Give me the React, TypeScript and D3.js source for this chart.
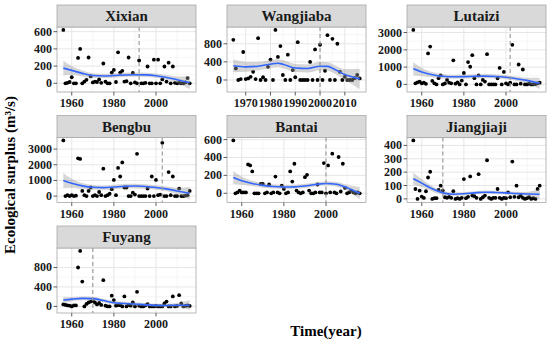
import React from 'react';
import * as d3 from 'd3';

// stations in facet order
const stationNames = ['Xixian', 'Wangjiaba', 'Lutaizi', 'Bengbu', 'Bantai', 'Jiangjiaji', 'Fuyang'];
const firstYears = [1956, 1965, 1956, 1956, 1956, 1956, 1956];
const changeYears = [1992, 2000, 2002, 2003, 2000, 1970, 1970];

// ecological surplus, one value per year from firstYear on
const xixian = [
  620, 0, 5, 15, 70, 0, 0, 295, 400, 0,
  20, 40, 300, 80, 10, 20, 15, 45, 5, 230,
  20, 0, 0, 125, 155, 15, 360, 125, 145, 20,
  25, 300, 0, 120, 10, 0, 265, 0, 0, 5,
  195, 0, 0, 275, 0, 275, 0, 45, 195, 20,
  240, 0, 195, 5, 0, 5, 0, 0, 10, 60,
  0,
];
const wangjiaba = [
  887, 255, 0, 20, 618, 20, 35, 70, 180, 20,
  923, 0, 60, 0, 290, 450, 0, 1105, 509, 750,
  110, 0, 560, 0, 220, 60, 836, 0, 0, 0,
  0, 400, 0, 676, 0, 778, 0, 204, 989, 0,
  909, 0, 800, 180, 0, 70, 0, 0, 0, 40,
  110, 35,
];
const lutaizi = [
  3150, 60, 120, 160, 60, 100, 30, 1790, 2190, 200,
  60, 0, 360, 520, 0, 50, 260, 100, 60, 1390,
  40, 120, 0, 220, 660, 0, 1290, 1020, 1690, 360,
  0, 520, 0, 260, 160, 1750, 0, 0, 0, 0,
  350, 950, 0, 720, 60, 0, 100, 2290, 0, 0,
  1150, 40, 860, 0, 0, 40, 0, 0, 20, 60,
  100,
];
const bengbu = [
  3550, 0, 60, 0, 60, 0, 30, 2410, 2370, 330,
  60, 0, 330, 550, 0, 60, 0, 260, 60, 1750,
  0, 60, 150, 440, 1030, 60, 1800, 1250, 2150, 550,
  550, 0, 0, 220, 100, 2700, 0, 0, 0, 0,
  480, 0, 1250, 0, 1030, 60, 100, 3400, 0, 0,
  1530, 60, 1250, 0, 0, 480, 0, 0, 30, 60,
  330,
];
const bantai = [
  590, 0, 10, 30, 10, 10, 10, 322, 311, 244,
  0, 0, 0, 105, 105, 0, 10, 98, 0, 10,
  187, 10, 0, 86, 49, 0, 10, 244, 131, 330,
  30, 10, 0, 10, 180, 206, 30, 0, 0, 10,
  98, 10, 10, 337, 0, 311, 10, 442, 10, 0,
  405, 20, 330, 60, 0, 10, 30, 10, 0, 10,
  0,
];
const jiangjiaji = [
  437, 74, 0, 62, 17, 7, 57, 160, 203, 0,
  5, 5, 67, 99, 62, 12, 8, 15, 8, 57,
  0, 5, 0, 8, 148, 5, 15, 168, 25, 20,
  8, 185, 0, 12, 25, 289, 8, 0, 8, 8,
  74, 8, 0, 8, 5, 49, 12, 279, 15, 99,
  12, 25, 8, 0, 5, 12, 0, 5, 0, 74,
  99,
];
const fuyang = [
  40, 30, 20, 15, 0, 20, 20, 800, 1140, 510,
  0, 50, 80, 100, 115, 80, 40, 70, 30, 540,
  15, 0, 0, 220, 130, 15, 25, 25, 0, 205,
  0, 30, 15, 80, 0, 300, 15, 0, 0, 20,
  48, 0, 0, 0, 10, 0, 0, 0, 62, 100,
  0, 0, 205, 0, 10, 230, 62, 0, 10, 20,
  10,
];
const surplus = [xixian, wangjiaba, lutaizi, bengbu, bantai, jiangjiaji, fuyang];

// loess fit and band half-width
const smoothYears = [1956, 1960, 1965, 1970, 1975, 1980, 1985, 1990, 1995, 2000, 2005, 2010, 2016];
const wangjiabaSmoothYears = [1965, 1970, 1975, 1980, 1983, 1985, 1990, 1995, 2000, 2003, 2005, 2010, 2016];
const xixianFit = [176, 150, 115, 90, 85, 90, 97, 100, 98, 88, 68, 42, 8];
const xixianBand = [85, 50, 35, 28, 25, 25, 25, 25, 25, 25, 28, 38, 75];
const wangjiabaFit = [313, 290, 305, 349, 370, 349, 265, 254, 305, 300, 260, 120, 25];
const wangjiabaBand = [140, 110, 90, 90, 90, 90, 90, 90, 90, 90, 95, 120, 225];
const lutaiziFit = [900, 720, 560, 470, 440, 450, 470, 480, 460, 410, 330, 230, 60];
const lutaiziBand = [380, 230, 160, 130, 120, 120, 120, 120, 120, 120, 130, 160, 330];
const bengbuFit = [1000, 820, 650, 560, 540, 580, 630, 640, 610, 550, 460, 330, 180];
const bengbuBand = [480, 280, 180, 150, 140, 140, 140, 140, 140, 140, 150, 190, 400];
const bantaiFit = [175, 140, 110, 88, 75, 70, 72, 82, 98, 110, 100, 62, 0];
const bantaiBand = [70, 45, 30, 25, 22, 22, 22, 22, 22, 24, 26, 32, 70];
const jiangjiajiFit = [150, 118, 75, 45, 35, 38, 45, 50, 48, 45, 40, 37, 35];
const jiangjiajiBand = [45, 30, 20, 15, 12, 12, 12, 12, 12, 12, 12, 15, 40];
const fuyangFit = [130, 150, 165, 160, 120, 75, 60, 50, 32, 22, 20, 25, 25];
const fuyangBand = [70, 45, 40, 40, 38, 35, 35, 35, 32, 32, 35, 45, 100];

const smoothYearList = [smoothYears, wangjiabaSmoothYears, smoothYears, smoothYears, smoothYears, smoothYears, smoothYears];
const fits = [xixianFit, wangjiabaFit, lutaiziFit, bengbuFit, bantaiFit, jiangjiajiFit, fuyangFit];
const bands = [xixianBand, wangjiabaBand, lutaiziBand, bengbuBand, bantaiBand, jiangjiajiBand, fuyangBand];

// tick labels
const yearTicks = [1960, 1980, 2000];
const wangjiabaYearTicks = [1970, 1980, 1990, 2000, 2010];
const xTicks = [yearTicks, wangjiabaYearTicks, yearTicks, yearTicks, yearTicks, yearTicks, yearTicks];
const yTicks = [
  [0, 200, 400, 600],
  [0, 400, 800],
  [0, 1000, 2000, 3000],
  [0, 1000, 2000, 3000],
  [0, 200, 400, 600],
  [0, 100, 200, 300, 400],
  [0, 400, 800],
];

const FONT = '"Liberation Serif", "Times New Roman", serif';
const colLeft = [57, 227, 407];
const rowTop = [5, 115.5, 226];
const panelW = 139;
const stripH = 22;
const plotH = 65;

const minorTicks = (ticks: number[], domain: number[]) => {
  const step = ticks[1] - ticks[0];
  const out: number[] = [];
  for (let v = ticks[0] - step / 2; v <= ticks[ticks.length - 1] + step / 2; v += step) {
    if (v > domain[0] && v < domain[1]) out.push(v);
  }
  return out;
};

const Panel = ({ i }: { i: number }) => {
  const col = i % 3;
  const row = Math.floor(i / 3);
  const left = colLeft[col];
  const right = left + panelW;
  const top = rowTop[row] + stripH;
  const bottom = top + plotH;

  const pts = surplus[i].map((v, k) => ({ year: firstYears[i] + k, v }));
  const sm = smoothYearList[i].map((yr, k) => ({
    year: yr,
    fit: fits[i][k],
    lo: fits[i][k] - bands[i][k],
    hi: fits[i][k] + bands[i][k],
  }));

  const [xa, xb] = d3.extent(pts, d => d.year) as [number, number];
  const xPad = (xb - xa) * 0.05;
  const x = d3.scaleLinear().domain([xa - xPad, xb + xPad]).range([left, right]);

  const yMin = Math.min(d3.min(pts, d => d.v)!, d3.min(sm, d => d.lo)!);
  const yMax = Math.max(d3.max(pts, d => d.v)!, d3.max(sm, d => d.hi)!);
  const yPad = (yMax - yMin) * 0.05;
  const y = d3.scaleLinear().domain([yMin - yPad, yMax + yPad]).range([bottom, top]);

  const area = d3.area<any>()
    .x(d => x(d.year))
    .y0(d => y(d.lo))
    .y1(d => y(d.hi))
    .curve(d3.curveMonotoneX);
  const line = d3.line<any>()
    .x(d => x(d.year))
    .y(d => y(d.fit))
    .curve(d3.curveMonotoneX);

  const xt = xTicks[i];
  const yt = yTicks[i];
  const xMinor = minorTicks(xt, x.domain());
  const yMinor = minorTicks(yt, y.domain());

  return (
    <g>
      <rect x={left} y={top} width={panelW} height={plotH} fill="#fff" />
      {xMinor.map(t => (
        <line key={'xm' + t} x1={x(t)} x2={x(t)} y1={top} y2={bottom} stroke="#f0f0f0" strokeWidth={0.6} />
      ))}
      {yMinor.map(t => (
        <line key={'ym' + t} x1={left} x2={right} y1={y(t)} y2={y(t)} stroke="#f0f0f0" strokeWidth={0.6} />
      ))}
      {xt.map(t => (
        <line key={'xg' + t} x1={x(t)} x2={x(t)} y1={top} y2={bottom} stroke="#e6e6e6" strokeWidth={1} />
      ))}
      {yt.map(t => (
        <line key={'yg' + t} x1={left} x2={right} y1={y(t)} y2={y(t)} stroke="#e6e6e6" strokeWidth={1} />
      ))}

      {pts.map(d => (
        <circle key={d.year} cx={x(d.year)} cy={y(d.v)} r={1.9} fill="#000" />
      ))}
      <path d={area(sm) ?? ''} fill="#999999" fillOpacity={0.4} />
      <path d={line(sm) ?? ''} fill="none" stroke="#3366FF" strokeWidth={1.6} />
      <line
        x1={x(changeYears[i])} x2={x(changeYears[i])} y1={top} y2={bottom}
        stroke="#9a9a9a" strokeOpacity={0.9} strokeWidth={1.3} strokeDasharray="4,3"
      />

      <rect x={left} y={top} width={panelW} height={plotH} fill="none" stroke="#a8a8a8" strokeWidth={0.8} />
      <rect x={left} y={rowTop[row]} width={panelW} height={stripH} fill="#d9d9d9" stroke="#a8a8a8" strokeWidth={0.8} />
      <text
        x={left + panelW / 2} y={rowTop[row] + stripH / 2 + 5}
        textAnchor="middle" fontFamily={FONT} fontWeight="bold" fontSize={15} fill="#1a1a1a"
      >
        {stationNames[i]}
      </text>

      {xt.map(t => (
        <g key={'xt' + t}>
          <line x1={x(t)} x2={x(t)} y1={bottom} y2={bottom + 3.5} stroke="#333" strokeWidth={0.8} />
          <text x={x(t)} y={bottom + 15} textAnchor="middle" fontFamily={FONT} fontWeight="bold" fontSize={12} fill="#1a1a1a">
            {t}
          </text>
        </g>
      ))}
      {yt.map(t => (
        <g key={'yt' + t}>
          <line x1={left - 3.5} x2={left} y1={y(t)} y2={y(t)} stroke="#333" strokeWidth={0.8} />
          <text x={left - 5} y={y(t) + 4} textAnchor="end" fontFamily={FONT} fontWeight="bold" fontSize={12} fill="#1a1a1a">
            {t}
          </text>
        </g>
      ))}
    </g>
  );
};

export default function App() {
  return (
    <svg width={550} height={353} style={{ position: 'absolute', left: 0, top: 0, background: '#fff' }}>
      {stationNames.map((_, i) => (
        <Panel key={i} i={i} />
      ))}
      <text
        transform="translate(15,175) rotate(-90)"
        textAnchor="middle" fontFamily={FONT} fontWeight="bold" fontSize={15} fill="#000"
      >
        Ecological surplus (m³/s)
      </text>
      <text x={326} y={336} textAnchor="middle" fontFamily={FONT} fontWeight="bold" fontSize={15} fill="#000">
        Time(year)
      </text>
    </svg>
  );
}
